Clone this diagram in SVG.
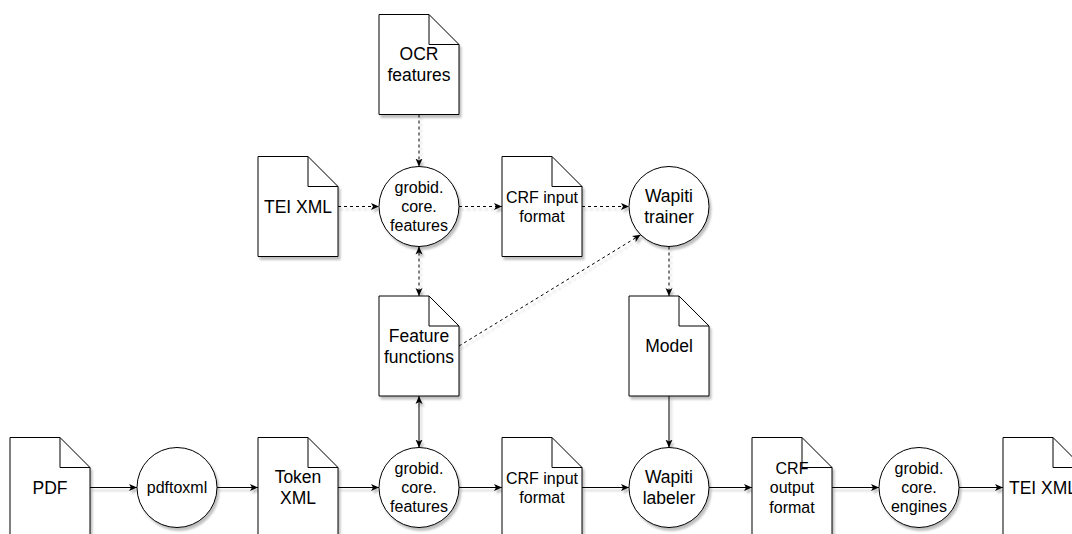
<svg xmlns="http://www.w3.org/2000/svg" width="1072" height="534" viewBox="0 0 1072 534">
  <style>
    .doc { fill: #ffffff; stroke: #000000; stroke-width: 1; }
    .fold { fill: none; stroke: #000000; stroke-width: 1; }
    .proc { fill: #ffffff; stroke: #000000; stroke-width: 1; }
    .lbl { font-family: "Liberation Sans", Arial, Helvetica, sans-serif; fill: #000000; text-anchor: middle; }
    .big { font-size: 17.5px; }
    .small { font-size: 16px; }
    .edge { fill: none; stroke: #000000; stroke-width: 1; }
    .dash { stroke-dasharray: 3 3; }
  </style>
  <defs>
    <filter id="shadow" x="-20%" y="-20%" width="140%" height="140%">
      <feDropShadow dx="2" dy="3" stdDeviation="0.8" flood-color="#000000" flood-opacity="0.25"/>
    </filter>
    <marker id="arrow" markerUnits="userSpaceOnUse" markerWidth="8" markerHeight="8" viewBox="0 0 8 8" refX="8" refY="4" orient="auto-start-reverse">
      <path d="M0,0.5 L8,4 L0,7.5 L2,4 Z" fill="#000000" stroke="none"/>
    </marker>
  </defs>

  <!-- Connectors -->
  <g id="connectors" filter="url(#shadow)">
    <!-- top (dashed) -->
    <line class="edge dash" x1="419" y1="114.5" x2="419" y2="166.5" marker-end="url(#arrow)"/>
    <line class="edge dash" x1="338" y1="206.5" x2="379" y2="206.5" marker-end="url(#arrow)"/>
    <line class="edge dash" x1="459" y1="206.5" x2="502" y2="206.5" marker-end="url(#arrow)"/>
    <line class="edge dash" x1="582" y1="206.5" x2="629" y2="206.5" marker-end="url(#arrow)"/>
    <line class="edge dash" x1="419" y1="246.5" x2="419" y2="296" marker-start="url(#arrow)" marker-end="url(#arrow)"/>
    <line class="edge dash" x1="669" y1="246.5" x2="669" y2="296" marker-end="url(#arrow)"/>
    <line class="edge dash" x1="459" y1="346" x2="640.7" y2="234.8" marker-end="url(#arrow)"/>
    <!-- vertical solid -->
    <line class="edge" x1="419" y1="396" x2="419" y2="447.5" marker-start="url(#arrow)" marker-end="url(#arrow)"/>
    <line class="edge" x1="669" y1="396" x2="669" y2="447.5" marker-end="url(#arrow)"/>
    <!-- bottom row -->
    <line class="edge" x1="90" y1="487.5" x2="137" y2="487.5" marker-end="url(#arrow)"/>
    <line class="edge" x1="217" y1="487.5" x2="258" y2="487.5" marker-end="url(#arrow)"/>
    <line class="edge" x1="338" y1="487.5" x2="379" y2="487.5" marker-end="url(#arrow)"/>
    <line class="edge" x1="459" y1="487.5" x2="502" y2="487.5" marker-end="url(#arrow)"/>
    <line class="edge" x1="582" y1="487.5" x2="629" y2="487.5" marker-end="url(#arrow)"/>
    <line class="edge" x1="709" y1="487.5" x2="752" y2="487.5" marker-end="url(#arrow)"/>
    <line class="edge" x1="832" y1="487.5" x2="879" y2="487.5" marker-end="url(#arrow)"/>
    <line class="edge" x1="959" y1="487.5" x2="1003" y2="487.5" marker-end="url(#arrow)"/>
  </g>

  <!-- Top area nodes -->
  <g id="ocr-features" transform="translate(379,14.5)">
    <path class="doc" filter="url(#shadow)" d="M0,0 H50 L80,30 V100 H0 Z"/>
    <path class="fold" d="M50,0 V30 H80"/>
    <text class="lbl big" x="40" y="45"><tspan x="40">OCR</tspan><tspan x="40" dy="21">features</tspan></text>
  </g>

  <g id="tei-xml-in" transform="translate(258,156.5)">
    <path class="doc" filter="url(#shadow)" d="M0,0 H50 L80,30 V100 H0 Z"/>
    <path class="fold" d="M50,0 V30 H80"/>
    <text class="lbl big" x="40" y="56">TEI XML</text>
  </g>

  <g id="features-train">
    <circle class="proc" filter="url(#shadow)" cx="419" cy="206.5" r="40"/>
    <text class="lbl small" x="419" y="193"><tspan x="419">grobid.</tspan><tspan x="419" dy="19">core.</tspan><tspan x="419" dy="19">features</tspan></text>
  </g>

  <g id="crf-input-train" transform="translate(502,156.5)">
    <path class="doc" filter="url(#shadow)" d="M0,0 H50 L80,30 V100 H0 Z"/>
    <path class="fold" d="M50,0 V30 H80"/>
    <text class="lbl small" x="40" y="46"><tspan x="40">CRF input</tspan><tspan x="40" dy="19">format</tspan></text>
  </g>

  <g id="wapiti-trainer">
    <circle class="proc" filter="url(#shadow)" cx="669" cy="206.5" r="40"/>
    <text class="lbl big" x="669" y="202"><tspan x="669">Wapiti</tspan><tspan x="669" dy="21">trainer</tspan></text>
  </g>

  <g id="feature-functions" transform="translate(379,296)">
    <path class="doc" filter="url(#shadow)" d="M0,0 H50 L80,30 V100 H0 Z"/>
    <path class="fold" d="M50,0 V30 H80"/>
    <text class="lbl big" x="40" y="45.5"><tspan x="40">Feature</tspan><tspan x="40" dy="21">functions</tspan></text>
  </g>

  <g id="model" transform="translate(629,296)">
    <path class="doc" filter="url(#shadow)" d="M0,0 H50 L80,30 V100 H0 Z"/>
    <path class="fold" d="M50,0 V30 H80"/>
    <text class="lbl big" x="40" y="56">Model</text>
  </g>

  <!-- Bottom row nodes -->
  <g id="pdf" transform="translate(10,437.5)">
    <path class="doc" filter="url(#shadow)" d="M0,0 H50 L80,30 V100 H0 Z"/>
    <path class="fold" d="M50,0 V30 H80"/>
    <text class="lbl big" x="40" y="56">PDF</text>
  </g>

  <g id="pdftoxml">
    <circle class="proc" filter="url(#shadow)" cx="177" cy="487.5" r="40"/>
    <text class="lbl small" x="177" y="493">pdftoxml</text>
  </g>

  <g id="token-xml" transform="translate(258,437.5)">
    <path class="doc" filter="url(#shadow)" d="M0,0 H50 L80,30 V100 H0 Z"/>
    <path class="fold" d="M50,0 V30 H80"/>
    <text class="lbl big" x="40" y="45.5"><tspan x="40">Token</tspan><tspan x="40" dy="21">XML</tspan></text>
  </g>

  <g id="features-label">
    <circle class="proc" filter="url(#shadow)" cx="419" cy="487.5" r="40"/>
    <text class="lbl small" x="419" y="474"><tspan x="419">grobid.</tspan><tspan x="419" dy="19">core.</tspan><tspan x="419" dy="19">features</tspan></text>
  </g>

  <g id="crf-input-label" transform="translate(502,437.5)">
    <path class="doc" filter="url(#shadow)" d="M0,0 H50 L80,30 V100 H0 Z"/>
    <path class="fold" d="M50,0 V30 H80"/>
    <text class="lbl small" x="40" y="46"><tspan x="40">CRF input</tspan><tspan x="40" dy="19">format</tspan></text>
  </g>

  <g id="wapiti-labeler">
    <circle class="proc" filter="url(#shadow)" cx="669" cy="487.5" r="40"/>
    <text class="lbl big" x="669" y="483"><tspan x="669">Wapiti</tspan><tspan x="669" dy="21">labeler</tspan></text>
  </g>

  <g id="crf-output" transform="translate(752,437.5)">
    <path class="doc" filter="url(#shadow)" d="M0,0 H50 L80,30 V100 H0 Z"/>
    <path class="fold" d="M50,0 V30 H80"/>
    <text class="lbl small" x="40" y="36"><tspan x="40">CRF</tspan><tspan x="40" dy="19.5">output</tspan><tspan x="40" dy="19.5">format</tspan></text>
  </g>

  <g id="engines">
    <circle class="proc" filter="url(#shadow)" cx="919" cy="487.5" r="40"/>
    <text class="lbl small" x="919" y="474"><tspan x="919">grobid.</tspan><tspan x="919" dy="19">core.</tspan><tspan x="919" dy="19">engines</tspan></text>
  </g>

  <g id="tei-xml-out" transform="translate(1003,437.5)">
    <path class="doc" filter="url(#shadow)" d="M0,0 H50 L80,30 V100 H0 Z"/>
    <path class="fold" d="M50,0 V30 H80"/>
    <text class="lbl big" x="40" y="56">TEI XML</text>
  </g>
</svg>
